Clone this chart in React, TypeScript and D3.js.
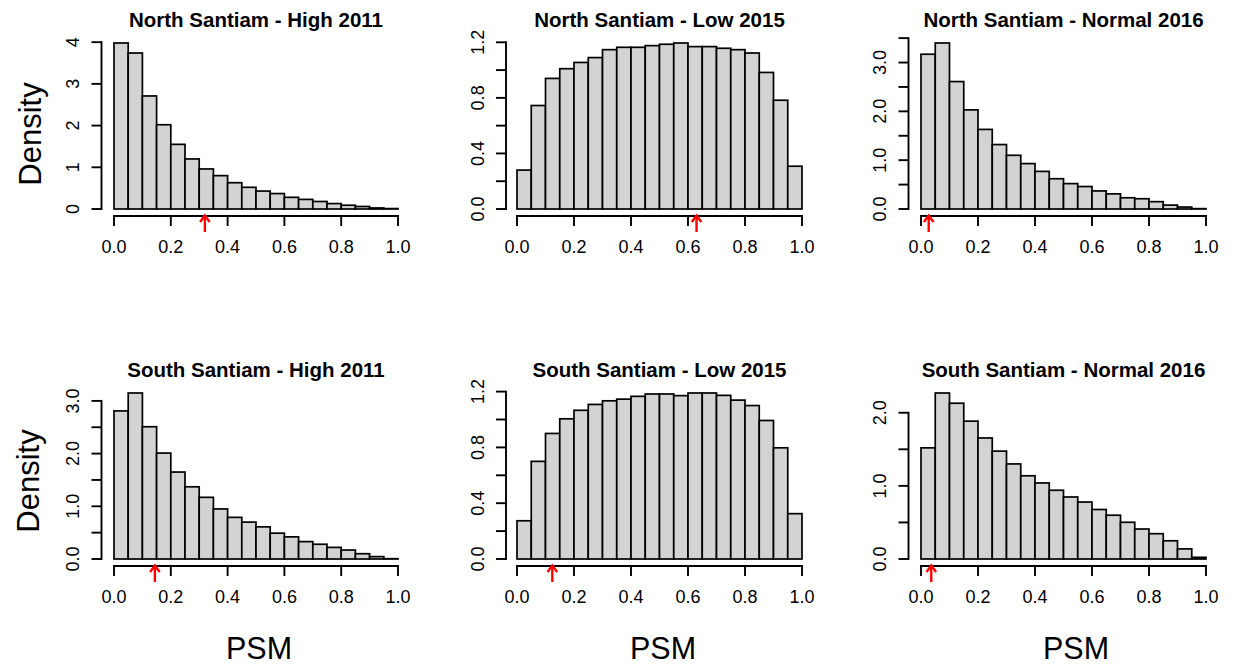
import React from "react";
import * as d3 from "d3";

// ---- data ----
const binStarts = [0, 0.05, 0.1, 0.15, 0.2, 0.25, 0.3, 0.35, 0.4, 0.45, 0.5, 0.55, 0.6, 0.65, 0.7, 0.75, 0.8, 0.85, 0.9, 0.95];
const binWidth = 0.05;

const nsHigh2011 = [3.98, 3.74, 2.71, 2.02, 1.55, 1.2, 0.96, 0.8, 0.63, 0.52, 0.43, 0.37, 0.28, 0.23, 0.18, 0.13, 0.09, 0.06, 0.025, 0.01];
const nsLow2015 = [0.28, 0.745, 0.94, 1.01, 1.055, 1.09, 1.147, 1.164, 1.164, 1.176, 1.186, 1.195, 1.169, 1.169, 1.157, 1.147, 1.123, 0.983, 0.783, 0.308];
const nsNormal2016 = [3.17, 3.4, 2.61, 2.03, 1.63, 1.32, 1.1, 0.93, 0.77, 0.62, 0.52, 0.46, 0.37, 0.31, 0.23, 0.21, 0.15, 0.08, 0.04, 0.007];
const ssHigh2011 = [2.81, 3.15, 2.51, 2.01, 1.65, 1.37, 1.17, 0.95, 0.79, 0.7, 0.61, 0.49, 0.42, 0.33, 0.28, 0.22, 0.17, 0.1, 0.045, 0.006];
const ssLow2015 = [0.274, 0.7, 0.9, 1.005, 1.066, 1.108, 1.134, 1.146, 1.166, 1.183, 1.183, 1.171, 1.19, 1.19, 1.173, 1.139, 1.1, 0.993, 0.797, 0.325];
const ssNormal2016 = [1.52, 2.27, 2.13, 1.885, 1.655, 1.475, 1.3, 1.138, 1.04, 0.94, 0.848, 0.779, 0.677, 0.599, 0.502, 0.41, 0.346, 0.249, 0.138, 0.023];

const titles = [
  "North Santiam - High 2011",
  "North Santiam - Low 2015",
  "North Santiam - Normal 2016",
  "South Santiam - High 2011",
  "South Santiam - Low 2015",
  "South Santiam - Normal 2016",
];
const arrowValues = [0.32, 0.63, 0.027, 0.144, 0.124, 0.036];

const xTicks = [0, 0.2, 0.4, 0.6, 0.8, 1.0];
const xTickLabels = ["0.0", "0.2", "0.4", "0.6", "0.8", "1.0"];

const yTicksP1 = [0, 1, 2, 3, 4];
const yLabelsP1 = ["0", "1", "2", "3", "4"];
const yTicksLow = [0, 0.2, 0.4, 0.6, 0.8, 1.0, 1.2];
const yLabelsLow = ["0.0", "", "0.4", "", "0.8", "", "1.2"];
const yTicksP3 = [0, 0.5, 1, 1.5, 2, 2.5, 3, 3.5];
const yLabelsP3 = ["0.0", "", "1.0", "", "2.0", "", "3.0", ""];
const yTicksP4 = [0, 0.5, 1, 1.5, 2, 2.5, 3];
const yLabelsP4 = ["0.0", "", "1.0", "", "2.0", "", "3.0"];
const yTicksP6 = [0, 0.5, 1, 1.5, 2];
const yLabelsP6 = ["0.0", "", "1.0", "", "2.0"];

const panelValues = [nsHigh2011, nsLow2015, nsNormal2016, ssHigh2011, ssLow2015, ssNormal2016];
const panelYTicks = [yTicksP1, yTicksLow, yTicksP3, yTicksP4, yTicksLow, yTicksP6];
const panelYLabels = [yLabelsP1, yLabelsLow, yLabelsP3, yLabelsP4, yLabelsLow, yLabelsP6];

// ---- layout ----
const W = 1234;
const H = 665;
const colX0 = [114, 517, 921];
const colX1 = [398, 802, 1206];
const colAxisX = [101.5, 506, 908.5];
const rowOffset = [0, 350];
const baseY0 = 209; // density 0
const baseYTop = 43; // max density
const xAxisY = 216;
const FONT = "'Liberation Sans', Arial, Helvetica, sans-serif";
const psmX = [259, 663, 1076];

function Panel({ idx }: { idx: number }) {
  const col = idx % 3;
  const row = Math.floor(idx / 3);
  const off = rowOffset[row];
  const values = panelValues[idx];
  const x = d3.scaleLinear().domain([0, 1]).range([colX0[col], colX1[col]]);
  const y = d3
    .scaleLinear()
    .domain([0, d3.max(values) as number])
    .range([baseY0 + off, baseYTop + off]);
  const axX = colAxisX[col];
  const yt = panelYTicks[idx];
  const yl = panelYLabels[idx];
  const axY = xAxisY + off;
  const ax = x(arrowValues[idx]);
  const plotLeft = axX;
  const plotRight = x(1) + (x(0) - axX);
  const titleX = (plotLeft + plotRight) / 2;
  return (
    <g>
      <text
        x={titleX}
        y={26.7 + off}
        textAnchor="middle"
        fontFamily={FONT}
        fontWeight="bold"
        fontSize={20.5}
        fill="#000"
      >
        {titles[idx]}
      </text>
      {values.map((v, i) => (
        <rect
          key={i}
          x={x(binStarts[i])}
          y={y(v)}
          width={x(binStarts[i] + binWidth) - x(binStarts[i])}
          height={y(0) - y(v)}
          fill="#D3D3D3"
          stroke="#000"
          strokeWidth={1.7}
        />
      ))}
      {/* y axis */}
      <line
        x1={axX}
        x2={axX}
        y1={y(yt[0])}
        y2={y(yt[yt.length - 1])}
        stroke="#000"
        strokeWidth={1.9}
        strokeLinecap="square"
      />
      {yt.map((t, i) => (
        <g key={i}>
          <line x1={axX - 10} x2={axX} y1={y(t)} y2={y(t)} stroke="#000" strokeWidth={1.9} />
          {yl[i] !== "" && (
            <text
              transform={`translate(${axX - 22.5},${y(t)}) rotate(-90)`}
              textAnchor="middle"
              fontFamily={FONT}
              fontSize={18}
              fill="#000"
            >
              {yl[i]}
            </text>
          )}
        </g>
      ))}
      {/* x axis */}
      <line x1={x(0)} x2={x(1)} y1={axY} y2={axY} stroke="#000" strokeWidth={1.9} strokeLinecap="square" />
      {xTicks.map((t, i) => (
        <g key={i}>
          <line x1={x(t)} x2={x(t)} y1={axY} y2={axY + 10} stroke="#000" strokeWidth={1.9} />
          <text x={x(t)} y={axY + 37.3} textAnchor="middle" fontFamily={FONT} fontSize={18} fill="#000">
            {xTickLabels[i]}
          </text>
        </g>
      ))}
      {/* red arrow */}
      <g stroke="#FF0000" strokeWidth={2.4} fill="none">
        <line x1={ax} x2={ax} y1={axY + 16} y2={axY - 0.5} />
        <polyline points={`${ax - 4.8},${axY + 6} ${ax},${axY - 0.5} ${ax + 4.8},${axY + 6}`} />
      </g>
    </g>
  );
}

export default function App() {
  return (
    <svg
      width={W}
      height={H}
      viewBox={`0 0 ${W} ${H}`}
      style={{ position: "absolute", left: 0, top: 0, background: "#fff" }}
    >
      <rect x={0} y={0} width={W} height={H} fill="#fff" />
      {[0, 1, 2, 3, 4, 5].map((i) => (
        <Panel key={i} idx={i} />
      ))}
      <text
        transform={`translate(40.5,134) rotate(-90)`}
        textAnchor="middle"
        fontFamily={FONT}
        fontSize={31}
        fill="#000"
      >
        Density
      </text>
      <text
        transform={`translate(39,481) rotate(-90)`}
        textAnchor="middle"
        fontFamily={FONT}
        fontSize={31}
        fill="#000"
      >
        Density
      </text>
      {psmX.map((px, i) => (
        <text key={i} x={px} y={659} textAnchor="middle" fontFamily={FONT} fontSize={30.5} fill="#000">
          PSM
        </text>
      ))}
    </svg>
  );
}
